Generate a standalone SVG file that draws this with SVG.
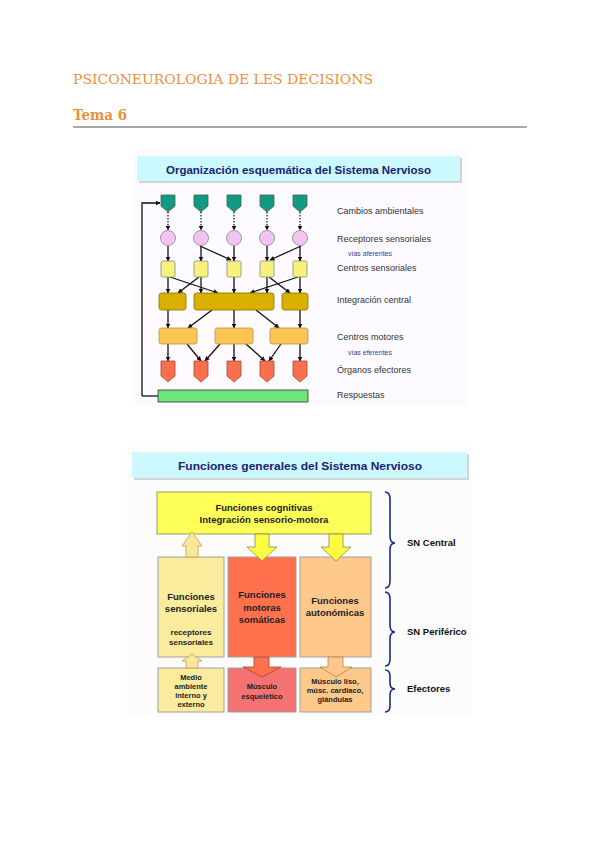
<svg xmlns="http://www.w3.org/2000/svg" width="599" height="848" viewBox="0 0 599 848">
<defs>
<marker id="ah" viewBox="0 0 10 10" refX="9" refY="5" markerWidth="5" markerHeight="5" markerUnits="userSpaceOnUse" orient="auto"><path d="M0,0 L10,5 L0,10 z" fill="#111"/></marker>
<style>
.pg{font-family:"DejaVu Serif",serif;fill:#e8913a}
.lb{font-family:"Liberation Sans",Arial,sans-serif;font-size:9px;fill:#333}
.sm{font-family:"Liberation Sans",Arial,sans-serif;font-size:7px;fill:#3a3a9a}
.hd{font-family:"Liberation Sans",Arial,sans-serif;font-size:11px;font-weight:bold;fill:#1a2372}
.bt{font-family:"Liberation Sans",Arial,sans-serif;font-weight:bold;fill:#222;text-anchor:middle}
.br{font-family:"Liberation Sans",Arial,sans-serif;font-weight:bold;font-size:9.5px;fill:#111}
.ln{stroke:#111;stroke-width:1.3;fill:none;marker-end:url(#ah)}
.dt{stroke:#111;stroke-width:1.2;fill:none;stroke-dasharray:1.5,1.5;marker-end:url(#ah)}
.env{fill:#119a82;stroke:#4a5a55;stroke-width:0.8}
.rec{fill:#f2c4f2;stroke:#888;stroke-width:0.8}
.cs{fill:#f8f27c;stroke:#888;stroke-width:0.8}
.ic{fill:#d9b000;stroke:#8a7200;stroke-width:0.8}
.cm{fill:#fcc452;stroke:#c0903a;stroke-width:0.8}
.ef{fill:#f8704e;stroke:#a84a34;stroke-width:0.8}
.brc{fill:none;stroke:#1a2a8a;stroke-width:1.6}
</style>
</defs>
<rect width="599" height="848" fill="#ffffff"/>

<!-- page header -->
<g id="page-header">
<text class="pg" x="73" y="84" font-size="13.5" textLength="300" lengthAdjust="spacingAndGlyphs">PSICONEUROLOGIA DE LES DECISIONS</text>
<text class="pg" x="73" y="120" font-size="14" font-weight="bold" textLength="54" lengthAdjust="spacingAndGlyphs">Tema 6</text>
<line x1="73" y1="127" x2="527" y2="127" stroke="#a8a8a8" stroke-width="2"/>
</g>

<!-- ================= Diagram 1 ================= -->
<g id="diagram1">
<rect x="133" y="150" width="334" height="256" fill="#fdfbff"/>
<g id="d1-title">
<rect x="139" y="158" width="323" height="25" fill="#d4d4d4"/>
<rect x="137" y="156" width="323" height="25" fill="#ccf8ff"/>
<text class="hd" x="298.5" y="174" text-anchor="middle" textLength="265" lengthAdjust="spacingAndGlyphs">Organización esquemática del Sistema Nervioso</text>
</g>

<g id="d1-connectors">
<!-- dotted: environment to receptors -->
<path class="dt" d="M168,212 V230"/>
<path class="dt" d="M201,212 V230"/>
<path class="dt" d="M234,212 V230"/>
<path class="dt" d="M267,212 V230"/>
<path class="dt" d="M300,212 V230"/>
<!-- receptors to sensory centers -->
<path class="ln" d="M168,246 V261"/>
<path class="ln" d="M201,246 V261"/>
<path class="ln" d="M234,246 V261"/>
<path class="ln" d="M267,246 V261"/>
<path class="ln" d="M300,246 V261"/>
<path class="ln" d="M200,246 L231,260"/>
<path class="ln" d="M301,246 L270,260"/>
<!-- sensory centers to integration -->
<path class="ln" d="M168,277 V293"/>
<path class="ln" d="M170,277 L218,293"/>
<path class="ln" d="M199,277 L178,293"/>
<path class="ln" d="M201,277 V293"/>
<path class="ln" d="M234,277 V293"/>
<path class="ln" d="M267,277 V293"/>
<path class="ln" d="M269,277 L290,293"/>
<path class="ln" d="M298,277 L250,293"/>
<path class="ln" d="M300,277 V293"/>
<!-- integration to motor centers -->
<path class="ln" d="M168,310 V328"/>
<path class="ln" d="M212,310 L188,328"/>
<path class="ln" d="M234,310 V328"/>
<path class="ln" d="M256,310 L279,328"/>
<path class="ln" d="M300,310 V328"/>
<!-- motor centers to effectors -->
<path class="ln" d="M168,344 V361"/>
<path class="ln" d="M187,344 L201,361"/>
<path class="ln" d="M220,344 L205,361"/>
<path class="ln" d="M234,344 V361"/>
<path class="ln" d="M246,344 L265,361"/>
<path class="ln" d="M281,344 L269,361"/>
<path class="ln" d="M300,344 V361"/>
<!-- feedback -->
<path class="ln" d="M142,396 V203 H160"/>
<path class="ln" d="M142,396 H163"/>
</g>

<g id="d1-environment">
<polygon class="env" points="161,195 175,195 175,206 168,212 161,206"/>
<polygon class="env" points="194,195 208,195 208,206 201,212 194,206"/>
<polygon class="env" points="227,195 241,195 241,206 234,212 227,206"/>
<polygon class="env" points="260,195 274,195 274,206 267,212 260,206"/>
<polygon class="env" points="293,195 307,195 307,206 300,212 293,206"/>
</g>
<g id="d1-receptors">
<circle class="rec" cx="168" cy="238" r="7.5"/>
<circle class="rec" cx="201" cy="238" r="7.5"/>
<circle class="rec" cx="234" cy="238" r="7.5"/>
<circle class="rec" cx="267" cy="238" r="7.5"/>
<circle class="rec" cx="300" cy="238" r="7.5"/>
</g>
<g id="d1-sensory-centers">
<rect class="cs" x="161" y="261" width="14" height="16" rx="1.5"/>
<rect class="cs" x="194" y="261" width="14" height="16" rx="1.5"/>
<rect class="cs" x="227" y="261" width="14" height="16" rx="1.5"/>
<rect class="cs" x="260" y="261" width="14" height="16" rx="1.5"/>
<rect class="cs" x="293" y="261" width="14" height="16" rx="1.5"/>
</g>
<g id="d1-integration">
<rect class="ic" x="159" y="293" width="27" height="17" rx="2.5"/>
<rect class="ic" x="194" y="293" width="80" height="17" rx="2.5"/>
<rect class="ic" x="282" y="293" width="26" height="17" rx="2.5"/>
</g>
<g id="d1-motor-centers">
<rect class="cm" x="159" y="328" width="38" height="16" rx="2.5"/>
<rect class="cm" x="215" y="328" width="38" height="16" rx="2.5"/>
<rect class="cm" x="270" y="328" width="38" height="16" rx="2.5"/>
</g>
<g id="d1-effectors">
<polygon class="ef" points="161,361 175,361 175,376 168,382 161,376"/>
<polygon class="ef" points="194,361 208,361 208,376 201,382 194,376"/>
<polygon class="ef" points="227,361 241,361 241,376 234,382 227,376"/>
<polygon class="ef" points="260,361 274,361 274,376 267,382 260,376"/>
<polygon class="ef" points="293,361 307,361 307,376 300,382 293,376"/>
</g>
<g id="d1-responses">
<rect x="158" y="390" width="150" height="12" fill="#6ee57a" stroke="#333" stroke-width="0.8"/>
</g>
<g id="d1-labels">
<text class="lb" x="337" y="214">Cambios ambientales</text>
<text class="lb" x="337" y="242">Receptores sensoriales</text>
<text class="sm" x="348" y="256">vías aferentes</text>
<text class="lb" x="337" y="271">Centros sensoriales</text>
<text class="lb" x="337" y="303">Integración central</text>
<text class="lb" x="337" y="340">Centros motores</text>
<text class="sm" x="348" y="355">vías eferentes</text>
<text class="lb" x="337" y="373">Órganos efectores</text>
<text class="lb" x="337" y="398">Respuestas</text>
</g>
</g>

<!-- ================= Diagram 2 ================= -->
<g id="diagram2">
<rect x="127" y="447" width="344" height="269" fill="#fcfcfc"/>
<g id="d2-title">
<rect x="134" y="454" width="335" height="26" fill="#d4d4d4"/>
<rect x="132" y="452" width="335" height="26" fill="#ccf8ff"/>
<text class="hd" x="300" y="470" text-anchor="middle" textLength="244" lengthAdjust="spacingAndGlyphs">Funciones generales del Sistema Nervioso</text>
</g>

<g id="d2-cognitive">
<rect x="157" y="492" width="214" height="42" fill="#fefe58" stroke="#9a9a60" stroke-width="1"/>
<text class="bt" x="264" y="511" font-size="9.5">Funciones cognitivas</text>
<text class="bt" x="264" y="523" font-size="9.5">Integración sensorio-motora</text>
</g>

<g id="d2-sensory">
<rect x="158" y="557" width="66" height="100" fill="#fbeb9c" stroke="#a0a0a0" stroke-width="1"/>
<text class="bt" x="191" y="600" font-size="9.5">Funciones</text>
<text class="bt" x="191" y="612" font-size="9.5">sensoriales</text>
<text class="bt" x="191" y="635" font-size="8">receptores</text>
<text class="bt" x="191" y="645" font-size="8">sensoriales</text>
</g>
<g id="d2-motor">
<rect x="228" y="557" width="68" height="100" fill="#ff704c" stroke="#a0a0a0" stroke-width="1"/>
<text class="bt" x="262" y="598" font-size="9.5">Funciones</text>
<text class="bt" x="262" y="611" font-size="9.5">motoras</text>
<text class="bt" x="262" y="623" font-size="9.5">somáticas</text>
</g>
<g id="d2-autonomic">
<rect x="300" y="557" width="71" height="100" fill="#fec88a" stroke="#a0a0a0" stroke-width="1"/>
<text class="bt" x="335" y="604" font-size="9.5">Funciones</text>
<text class="bt" x="335" y="616" font-size="9.5">autonómicas</text>
</g>

<g id="d2-environment">
<rect x="158" y="668" width="66" height="44" fill="#fbeb9c" stroke="#a0a0a0" stroke-width="1"/>
<text class="bt" x="191" y="680" font-size="7.5">Medio</text>
<text class="bt" x="191" y="689" font-size="7.5">ambiente</text>
<text class="bt" x="191" y="698" font-size="7.5">interno y</text>
<text class="bt" x="191" y="707" font-size="7.5">externo</text>
</g>
<g id="d2-skeletal">
<rect x="228" y="668" width="68" height="44" fill="#f47272" stroke="#a0a0a0" stroke-width="1"/>
<text class="bt" x="262" y="689" font-size="7.5">Músculo</text>
<text class="bt" x="262" y="699" font-size="7.5">esquelético</text>
</g>
<g id="d2-smooth">
<rect x="300" y="668" width="71" height="44" fill="#fec88a" stroke="#a0a0a0" stroke-width="1"/>
<text class="bt" x="335" y="684" font-size="7.5">Músculo liso,</text>
<text class="bt" x="335" y="693" font-size="7.5">músc. cardiaco,</text>
<text class="bt" x="335" y="702" font-size="7.5">glándulas</text>
</g>

<g id="d2-connectors">
<polygon points="192,532 202,546 198,546 198,557 186,557 186,546 182,546" fill="#fbe69a" stroke="#c0a050" stroke-width="0.8"/>
<polygon points="255,534 269,534 269,547 277,547 262,561 247,547 255,547" fill="#fefe40" stroke="#8a8a50" stroke-width="0.8"/>
<polygon points="329,534 343,534 343,547 351,547 336,561 321,547 329,547" fill="#fefe40" stroke="#8a8a50" stroke-width="0.8"/>
<polygon points="192,654 202,661 198,661 198,668 186,668 186,661 182,661" fill="#fbe69a" stroke="#c0a050" stroke-width="0.8"/>
<polygon points="254,657 269,657 269,667 281,667 262,677 243,667 254,667" fill="#ff704c" stroke="#a04830" stroke-width="0.8"/>
<polygon points="328,657 343,657 343,667 352,667 336,677 320,667 328,667" fill="#fec88a" stroke="#b08050" stroke-width="0.8"/>
</g>

<g id="d2-braces">
<path class="brc" d="M385,492 Q390,492 390,499 V536 Q390,543 395,543 Q390,543 390,550 V581 Q390,588 385,588"/>
<path class="brc" d="M385,592 Q390,592 390,599 V625 Q390,632 395,632 Q390,632 390,639 V659 Q390,666 385,666"/>
<path class="brc" d="M385,670 Q390,670 390,676 V683 Q390,689 395,689 Q390,689 390,695 V706 Q390,712 385,712"/>
<text class="br" x="407" y="546">SN Central</text>
<text class="br" x="407" y="635">SN Periférico</text>
<text class="br" x="407" y="692" font-size="9">Efectores</text>
</g>
</g>
</svg>
